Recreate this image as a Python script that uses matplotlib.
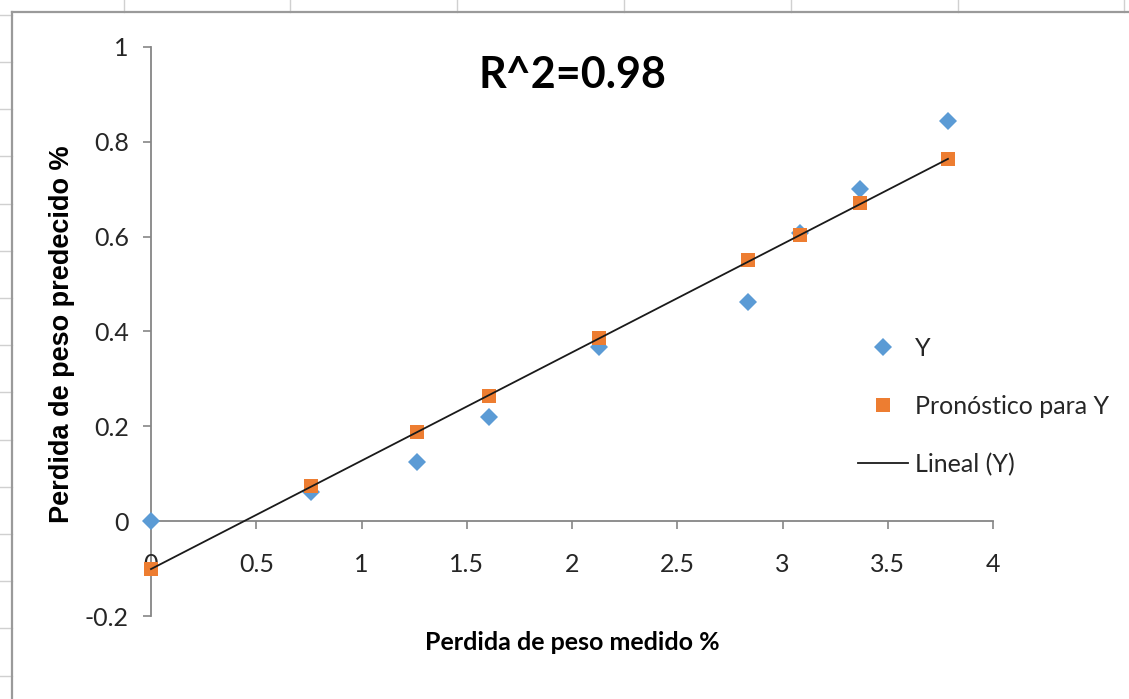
import matplotlib
matplotlib.use("Agg")
import matplotlib.pyplot as plt
from matplotlib.lines import Line2D

# ---- data ----
x_medido = [0.0, 0.76, 1.264, 1.606, 2.128, 2.836, 3.085, 3.368, 3.786]
y_obs = [0.0, 0.061, 0.1245, 0.2195, 0.367, 0.462, 0.607, 0.701, 0.844]
y_pred = [-0.101, 0.074, 0.188, 0.264, 0.386, 0.551, 0.604, 0.671, 0.764]
x_ticks = [0, 0.5, 1, 1.5, 2, 2.5, 3, 3.5, 4]
x_tick_labels = ["0", "0.5", "1", "1.5", "2", "2.5", "3", "3.5", "4"]
y_ticks = [-0.2, 0, 0.2, 0.4, 0.6, 0.8, 1.0]
y_tick_labels = ["-0.2", "0", "0.2", "0.4", "0.6", "0.8", "1"]
title_text = "R^2=0.98"
x_label = "Perdida de peso medido %"
y_label = "Perdida de peso predecido %"
legend_labels = ["Y", "Pronóstico para Y", "Lineal (Y)"]

W, H = 1129, 699
fig = plt.figure(figsize=(W / 100, H / 100), dpi=100)
fig.patch.set_facecolor("white")

# spreadsheet grid remnants and chart frame (figure pixel coords)
def fx(px):
    return px / W

def fy(py):
    return 1 - py / H

for gx in [124, 290, 457, 624, 791, 958, 1124]:
    fig.add_artist(Line2D([fx(gx), fx(gx)], [fy(0), fy(12)], color="#D0D0D0", lw=1.0))
for k in range(-1, 14):
    gy = 62 + 47.2 * k
    fig.add_artist(Line2D([fx(0), fx(12)], [fy(gy), fy(gy)], color="#D0D0D0", lw=1.0))
fig.add_artist(Line2D([fx(12), fx(W)], [fy(12), fy(12)], color="#9A9A9A", lw=1.6))
fig.add_artist(Line2D([fx(12), fx(12)], [fy(12), fy(H)], color="#9A9A9A", lw=1.6))

# axes: x 0..4 -> px 151..993 ; y -0.2..1 -> py 616..47
ax = fig.add_axes([fx(151), fy(616), fx(993) - fx(151), fy(47) - fy(616)])
ax.set_xlim(0, 4)
ax.set_ylim(-0.2, 1.0)
ax.patch.set_alpha(0)

ax.plot(x_medido, y_obs, linestyle="none", marker="D", markersize=9.5,
        color="#5B9BD5", markeredgewidth=0, label=legend_labels[0], zorder=2.2,
        clip_on=False)
ax.plot(x_medido, y_pred, linestyle="none", marker="s", markersize=9.5,
        color="#ED7D31", markeredgewidth=0, label=legend_labels[1], zorder=2.3,
        clip_on=False)
ax.plot([x_medido[0], x_medido[-1]], [y_pred[0], y_pred[-1]], color="#1A1A1A",
        lw=1.3, label=legend_labels[2], zorder=5, clip_on=False)

axis_col = "#868686"
for s in ["top", "right"]:
    ax.spines[s].set_visible(False)
ax.spines["bottom"].set_position(("data", 0))
ax.spines["left"].set_position(("data", 0))
for s in ["bottom", "left"]:
    ax.spines[s].set_color(axis_col)
    ax.spines[s].set_linewidth(1.3)
    ax.spines[s].set_zorder(1)

tick_font = "Lato"
ax.set_xticks(x_ticks)
ax.set_xticklabels(x_tick_labels)
ax.set_yticks(y_ticks)
ax.set_yticklabels(y_tick_labels)
ax.tick_params(axis="x", direction="out", length=6, width=1.2, color=axis_col,
               pad=17, labelsize=18, labelcolor="#262626")
ax.tick_params(axis="y", direction="out", length=6, width=1.2, color=axis_col,
               pad=10, labelsize=18, labelcolor="#262626")
for lab in ax.get_xticklabels() + ax.get_yticklabels():
    lab.set_fontfamily(tick_font)

# title
fig.text(fx(572), fy(75), title_text, ha="center", va="center",
         fontsize=31, fontweight="bold", family="Lato", color="black")
# axis labels
fig.text(fx(572), fy(643), x_label, ha="center", va="center",
         fontsize=18, fontweight="bold", family="Lato", color="black")
fig.text(fx(62), fy(334), y_label, ha="center", va="center", rotation=90,
         fontsize=19.5, fontweight="bold", family="Liberation Sans", color="black")

leg = ax.legend(loc="upper left", bbox_to_anchor=(fx(845), fy(324)),
                bbox_transform=fig.transFigure, frameon=False, borderpad=0,
                handlelength=2.0, handletextpad=0.3,
                labelspacing=1.4, prop={"family": "Lato", "size": 18})
for t in leg.get_texts():
    t.set_color("#262626")

fig.savefig("out.png", dpi=100)
